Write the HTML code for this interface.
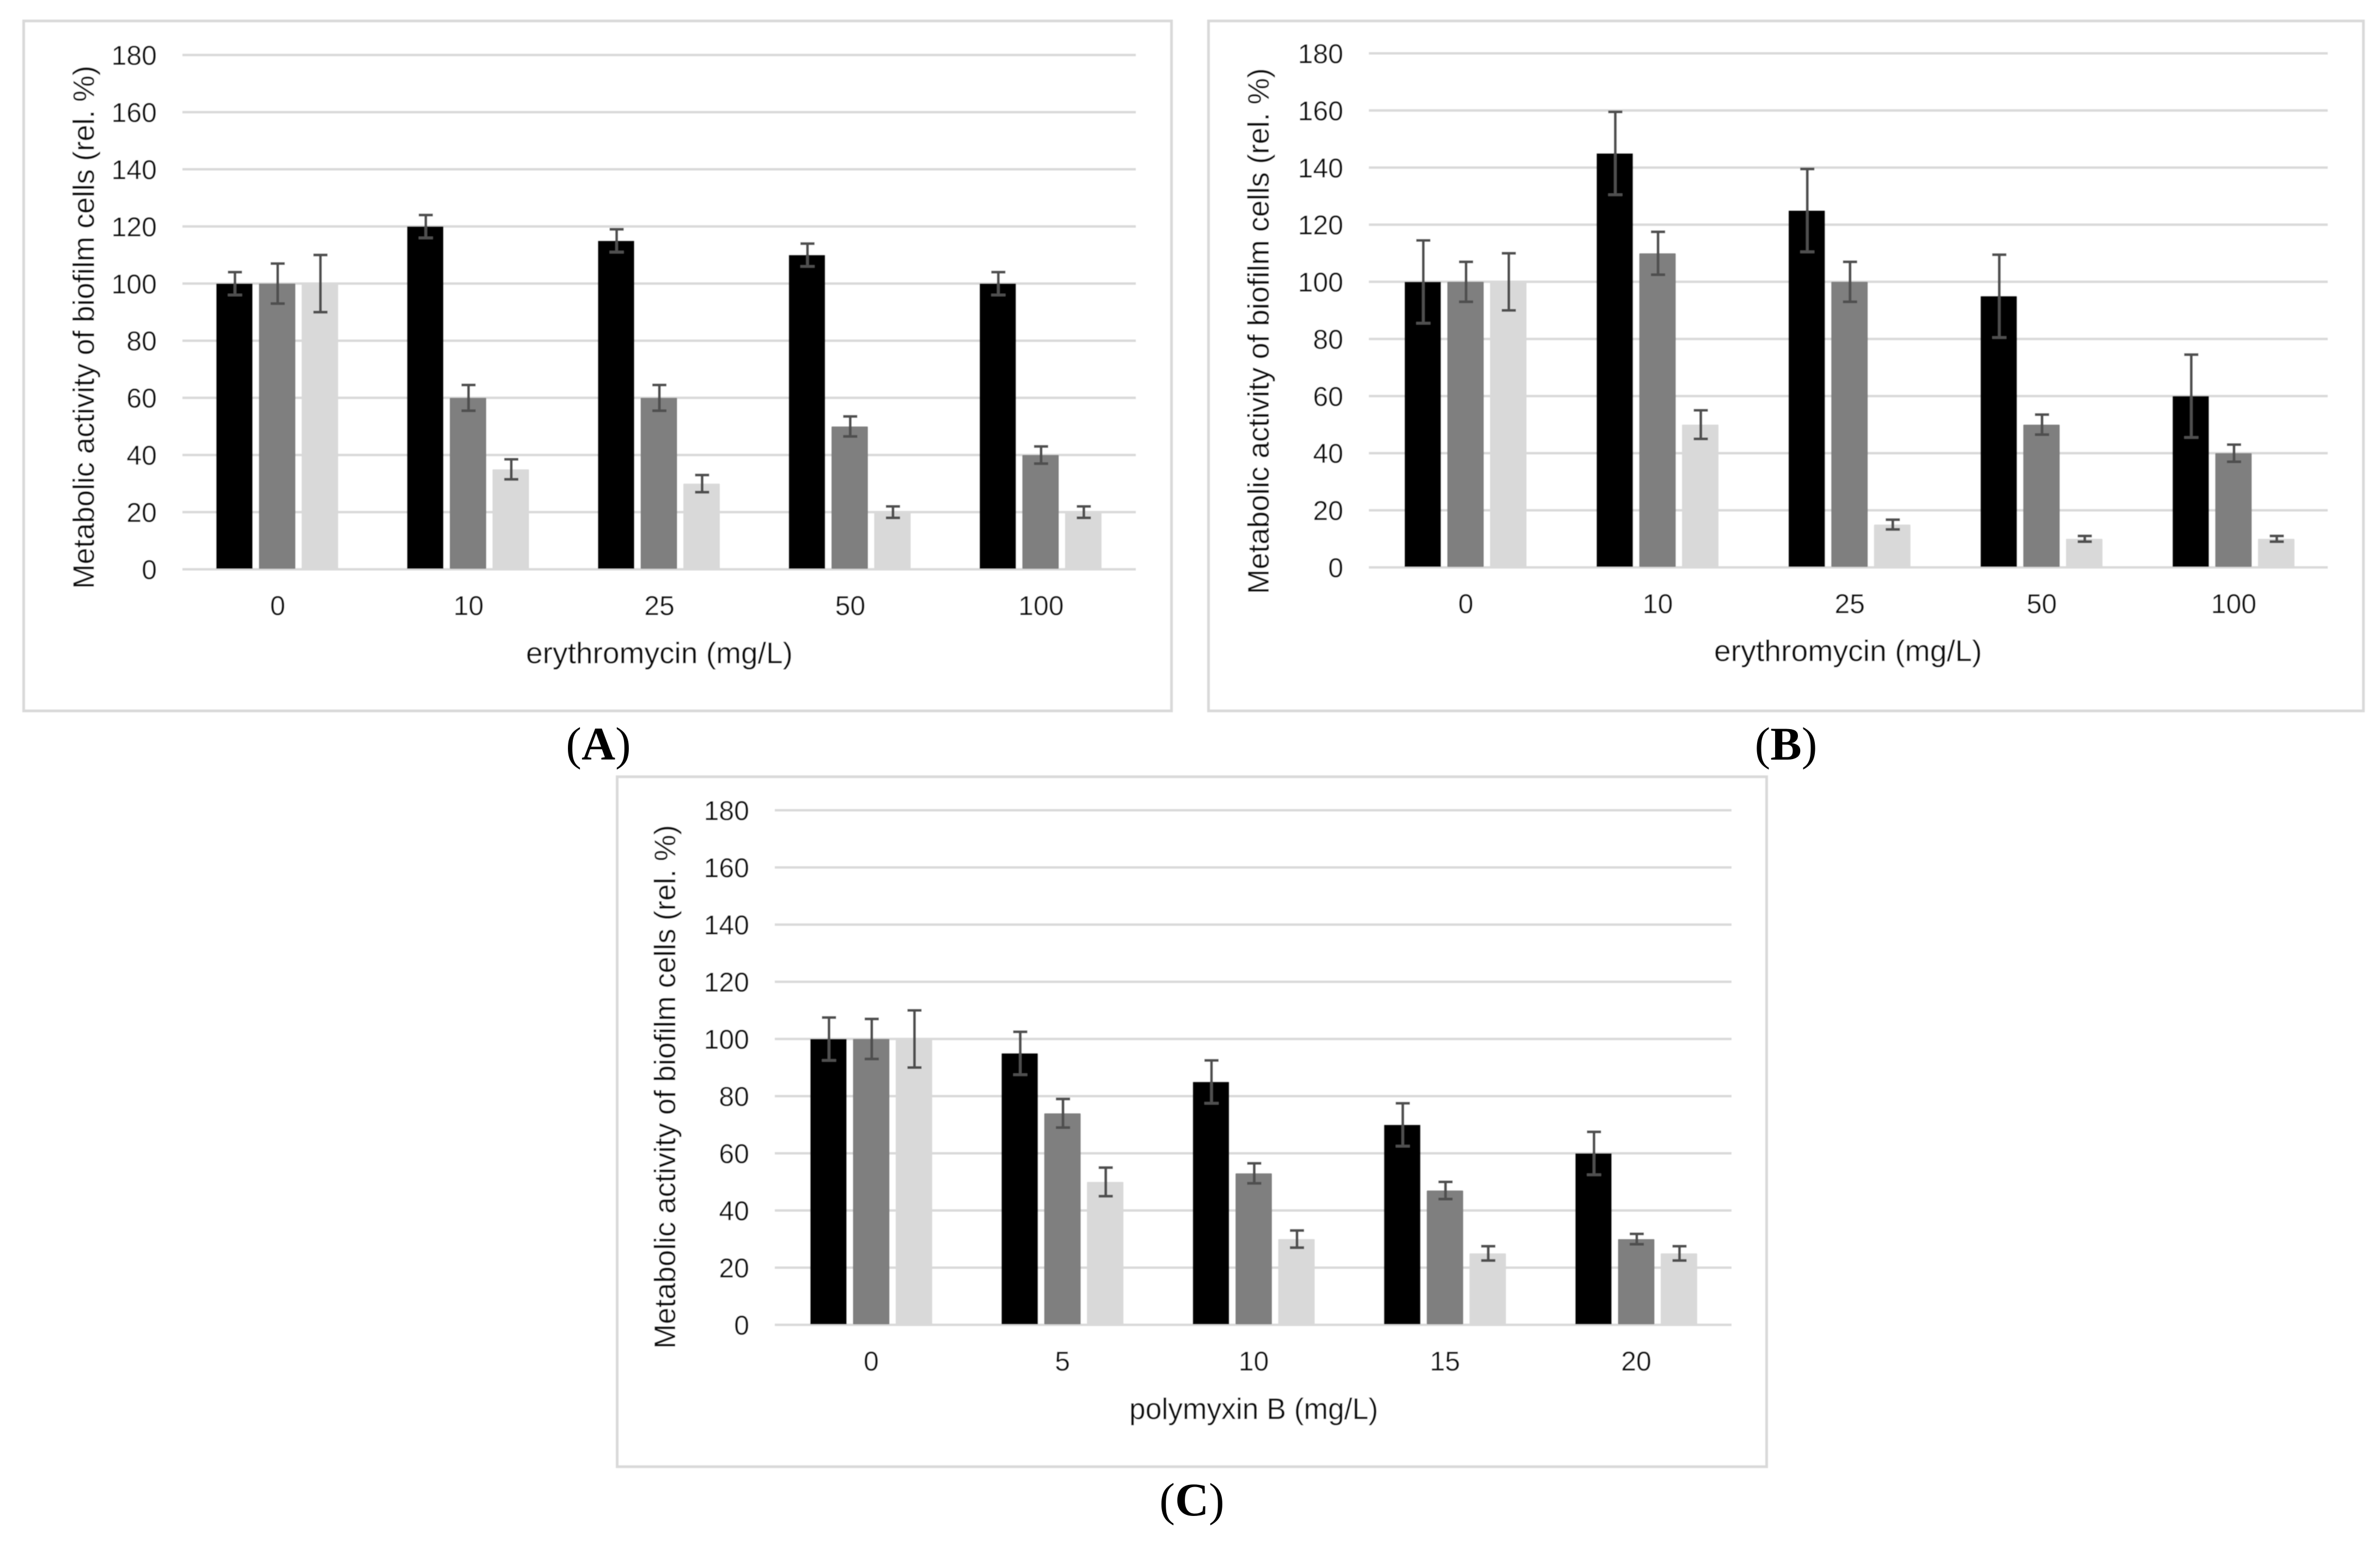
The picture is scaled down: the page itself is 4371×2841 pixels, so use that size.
<!DOCTYPE html>
<html lang="en">
<head>
<meta charset="utf-8">
<title>Metabolic activity of biofilm cells</title>
<style>
html,body{margin:0;padding:0;background:#fff;}
svg{display:block;}
.tick{font-family:"Liberation Sans",sans-serif;font-size:50px;fill:#111111;}
.axis-title{font-family:"Liberation Sans",sans-serif;font-size:55px;fill:#0d0d0d;}
.panel-label{font-family:"Liberation Serif",serif;font-size:86px;fill:#000;}
.panel-label .bold{font-weight:bold;}
</style>
</head>
<body>
<svg id="figure" xmlns="http://www.w3.org/2000/svg" width="4371" height="2841" viewBox="0 0 4371 2841">
  <defs>
    <filter id="soft" filterUnits="userSpaceOnUse" x="0" y="0" width="4371" height="2841">
      <feGaussianBlur stdDeviation="0.9"/>
    </filter>
  </defs>
  <rect x="0" y="0" width="4371" height="2841" fill="#ffffff"/>

  <g id="panel-a" filter="url(#soft)">
    <rect x="43.5" y="38.5" width="2108" height="1267" fill="#ffffff" stroke="#d9d9d9" stroke-width="5"/>
    <g class="plot"></g>
    <text class="axis-title" transform="translate(172.5 601) rotate(-90)" text-anchor="middle" textLength="961" lengthAdjust="spacingAndGlyphs">Metabolic activity of biofilm cells (rel. %)</text>
    <text class="axis-title" x="1211" y="1218" text-anchor="middle" textLength="490" lengthAdjust="spacingAndGlyphs">erythromycin (mg/L)</text>
  </g>

  <g id="panel-b" filter="url(#soft)">
    <rect x="2219.5" y="38.5" width="2121" height="1267" fill="#ffffff" stroke="#d9d9d9" stroke-width="5"/>
    <g class="plot"></g>
    <text class="axis-title" transform="translate(2330 608) rotate(-90)" text-anchor="middle" textLength="966" lengthAdjust="spacingAndGlyphs">Metabolic activity of biofilm cells (rel. %)</text>
    <text class="axis-title" x="3394" y="1214" text-anchor="middle" textLength="492" lengthAdjust="spacingAndGlyphs">erythromycin (mg/L)</text>
  </g>

  <g id="panel-c" filter="url(#soft)">
    <rect x="1133.5" y="1426.5" width="2111" height="1267" fill="#ffffff" stroke="#d9d9d9" stroke-width="5"/>
    <g class="plot"></g>
    <text class="axis-title" transform="translate(1240 1996) rotate(-90)" text-anchor="middle" textLength="962" lengthAdjust="spacingAndGlyphs">Metabolic activity of biofilm cells (rel. %)</text>
    <text class="axis-title" x="2302.5" y="2606" text-anchor="middle" textLength="457" lengthAdjust="spacingAndGlyphs">polymyxin B (mg/L)</text>
  </g>

  <text class="panel-label" x="1099" y="1395" text-anchor="middle">(<tspan class="bold">A</tspan>)</text>
  <text class="panel-label" x="3280" y="1395" text-anchor="middle">(<tspan class="bold">B</tspan>)</text>
  <text class="panel-label" x="2189" y="2783" text-anchor="middle">(<tspan class="bold">C</tspan>)</text>
</svg>

<script>
// ---- Chart data ----
const yTicks = [0, 20, 40, 60, 80, 100, 120, 140, 160, 180];
const seriesNames = ['black', 'gray', 'light'];

const categoriesA = ['0', '10', '25', '50', '100'];
const blackA = [100, 120, 115, 110, 100];
const grayA = [100, 60, 60, 50, 40];
const lightA = [100, 35, 30, 20, 20];
const blackErrA = [4, 4, 4, 4, 4];
const grayErrA = [7, 4.5, 4.5, 3.5, 3];
const lightErrA = [10, 3.5, 3, 2, 2];

const categoriesB = ['0', '10', '25', '50', '100'];
const blackB = [100, 145, 125, 95, 60];
const grayB = [100, 110, 100, 50, 40];
const lightB = [100, 50, 15, 10, 10];
const blackErrB = [14.5, 14.5, 14.5, 14.5, 14.5];
const grayErrB = [7, 7.5, 7, 3.5, 3];
const lightErrB = [10, 5, 1.7, 1, 1];

const categoriesC = ['0', '5', '10', '15', '20'];
const blackC = [100, 95, 85, 70, 60];
const grayC = [100, 74, 53, 47, 30];
const lightC = [100, 50, 30, 25, 25];
const blackErrC = [7.5, 7.5, 7.5, 7.5, 7.5];
const grayErrC = [7, 5, 3.5, 3, 1.8];
const lightErrC = [10, 5, 3, 2.5, 2.5];

// ---- Drawing ----
const SVG_NS = 'http://www.w3.org/2000/svg';
const BAR_FILL = { black: '#000000', gray: '#7f7f7f', light: '#d9d9d9' };
const Y_MAX = 180;
const BAR_WIDTH = 67;
const BAR_STEP = 78.5;
const CAP_WIDTH = 26;

function shape(tag, attrs, parent) {
  const node = document.createElementNS(SVG_NS, tag);
  for (const key in attrs) node.setAttribute(key, attrs[key]);
  parent.appendChild(node);
  return node;
}

function drawPanel(id, layout, categories, values, errors) {
  const plot = document.querySelector('#panel-' + id + ' .plot');
  const yScale = function (v) {
    return layout.yZero - (v / Y_MAX) * (layout.yZero - layout.yTop);
  };
  const xBar = function (cat, ser) {
    return layout.xStart + cat * layout.groupStep + ser * BAR_STEP;
  };
  const xCat = function (cat) {
    return layout.xStart + layout.labelOffset + cat * layout.groupStep;
  };

  yTicks.forEach(function (tick) {
    const y = yScale(tick);
    const line = shape('line', { x1: layout.gridLeft, x2: layout.gridRight, y1: y, y2: y, stroke: '#d9d9d9', 'stroke-width': 4.5 }, plot);
    
    
    const label = shape('text', { class: 'tick', x: layout.gridLeft - 47, y: y + 18, 'text-anchor': 'end' }, plot);
    label.textContent = String(tick);
    
    
  });

  categories.forEach(function (cat, c) {
    const label = shape('text', { class: 'tick', x: xCat(c), y: layout.yZero + 84, 'text-anchor': 'middle' }, plot);
    label.textContent = cat;
    
    
  });

  seriesNames.forEach(function (name, s) {
    values[s].forEach(function (v, c) {
      const bar = shape('rect', {
        x: xBar(c, s), y: yScale(v), width: BAR_WIDTH, height: yScale(0) - yScale(v) - 1,
        fill: BAR_FILL[name], rx: 1.5
      }, plot);
      
      
    });
  });

  seriesNames.forEach(function (name, s) {
    values[s].forEach(function (v, c) {
      const cx = xBar(c, s) + BAR_WIDTH / 2 + 1;
      const hi = yScale(v + errors[s][c]);
      const lo = yScale(v - errors[s][c]);
      const d = 'M' + cx + ' ' + hi + 'V' + lo +
        'M' + (cx - CAP_WIDTH / 2) + ' ' + hi + 'H' + (cx + CAP_WIDTH / 2) +
        'M' + (cx - CAP_WIDTH / 2) + ' ' + lo + 'H' + (cx + CAP_WIDTH / 2);
      const err = shape('path', { d: d, fill: 'none', stroke: '#505050', 'stroke-width': 5 }, plot);
      
      
    });
  });
}

drawPanel('a',
  { gridLeft: 335, gridRight: 2086, yTop: 101, yZero: 1045.5, xStart: 397, groupStep: 350.5, labelOffset: 113 },
  categoriesA, [blackA, grayA, lightA], [blackErrA, grayErrA, lightErrA]);

drawPanel('b',
  { gridLeft: 2514, gridRight: 4275, yTop: 98, yZero: 1042, xStart: 2579.5, groupStep: 352.6, labelOffset: 112.5 },
  categoriesB, [blackB, grayB, lightB], [blackErrB, grayErrB, lightErrB]);

drawPanel('c',
  { gridLeft: 1423, gridRight: 3180, yTop: 1488, yZero: 2433, xStart: 1488, groupStep: 351.25, labelOffset: 112 },
  categoriesC, [blackC, grayC, lightC], [blackErrC, grayErrC, lightErrC]);
</script>
</body>
</html>
